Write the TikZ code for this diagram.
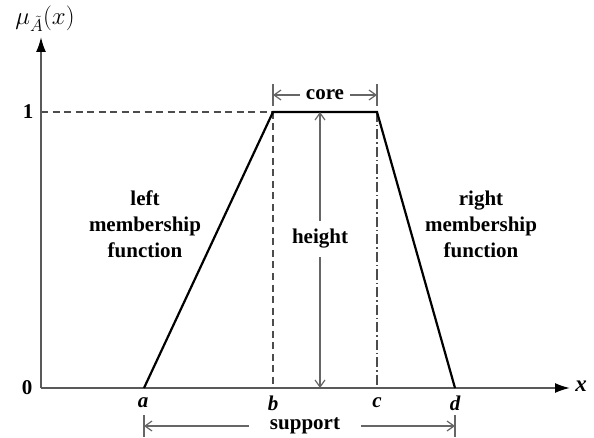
\documentclass[tikz,border=0pt]{standalone}
\usepackage{fontspec}
\setmainfont{Liberation Serif}
\usetikzlibrary{arrows.meta}
\begin{document}
\begin{tikzpicture}[x=1pt,y=-1pt,
  axis/.style={draw=black!65, line width=1.8pt},
  curve/.style={line width=2.2pt, black},
  dim/.style={draw=black!60, line width=1.2pt},
  guide/.style={draw=black!70, line width=1.3pt},
  lbl/.style={font=\fontsize{21}{26}\selectfont\bfseries, align=center, inner sep=0pt},
  ptlbl/.style={font=\fontsize{21}{24}\selectfont\bfseries\itshape, inner sep=0pt},
  tip/.style={-{Straight Barb[length=7pt,width=10pt]}},
  bigtip/.style={-{Latex[length=15pt,width=10pt,color=black]}}]
\useasboundingbox (0,0) rectangle (594,438);
% key coordinates
\coordinate (O) at (41,388);
\coordinate (Ytop) at (41,37);
\coordinate (Xend) at (570,388);
\coordinate (A) at (144,388);
\coordinate (B0) at (273,388);
\coordinate (B) at (273,112);
\coordinate (C) at (377,112);
\coordinate (C0) at (377,388);
\coordinate (D) at (455,388);
\coordinate (Y1) at (41,112);
% guide lines
\draw[guide, dash pattern=on 7pt off 4.5pt] (Y1) -- (B);
\draw[guide, dash pattern=on 7pt off 4.5pt] (B) -- (B0);
\draw[guide, dash pattern=on 10pt off 3pt on 1.5pt off 3pt] (C) -- (C0);
% axes
\draw[axis, bigtip] (O) -- (Ytop);
\draw[axis, bigtip] (O) -- (Xend);
% trapezoid
\draw[curve, line join=miter] (A) -- (B) -- (C) -- (D);
% axis labels
\node[font=\fontsize{24}{26}\selectfont, inner sep=0pt] (mu) at (45,19) {$\mu_{\tilde{A}}(x)$};
\node[ptlbl, font=\fontsize{23}{24}\selectfont\bfseries\itshape] (xl) at (581,386) {x};
\node[lbl] (zero) at (27,388) {0};
\node[lbl] (one) at (28,112) {1};
\node[ptlbl] (la) at (143,403) {a};
\node[ptlbl] (lb) at (273,403) {b};
\node[ptlbl] (lc) at (377,403) {c};
\node[ptlbl] (ld) at (455,403) {d};
% side texts
\node[lbl] (left) at (145,224) {left\\membership\\function};
\node[lbl] (right) at (481,224) {right\\membership\\function};
% height
\coordinate (Htop) at (320,112);
\coordinate (Hbot) at (320,388);
\node[lbl, inner xsep=2pt, inner ysep=8pt] (height) at (320,239) {height};
\draw[dim, tip] (height.north) -- (Htop);
\draw[dim, tip] (height.south) -- (Hbot);
% core
\coordinate (CoreL) at (273,95);
\coordinate (CoreR) at (377,95);
\coordinate (CoreLt) at (273,84);
\coordinate (CoreLb) at (273,106);
\coordinate (CoreRt) at (377,84);
\coordinate (CoreRb) at (377,106);
\node[lbl, inner xsep=6pt] (core) at (325,95) {core};
\draw[dim] (CoreLt) -- (CoreLb);
\draw[dim] (CoreRt) -- (CoreRb);
\draw[dim, tip] (core.west) -- (CoreL);
\draw[dim, tip] (core.east) -- (CoreR);
% support
\coordinate (SupL) at (144,426);
\coordinate (SupR) at (455,426);
\coordinate (SupLt) at (144,415);
\coordinate (SupLb) at (144,437);
\coordinate (SupRt) at (455,415);
\coordinate (SupRb) at (455,437);
\node[lbl, inner xsep=21pt] (support) at (305,426) {support};
\draw[dim] (SupLt) -- (SupLb);
\draw[dim] (SupRt) -- (SupRb);
\draw[dim, tip] (support.west) -- (SupL);
\draw[dim, tip] (support.east) -- (SupR);
\end{tikzpicture}
\end{document}
